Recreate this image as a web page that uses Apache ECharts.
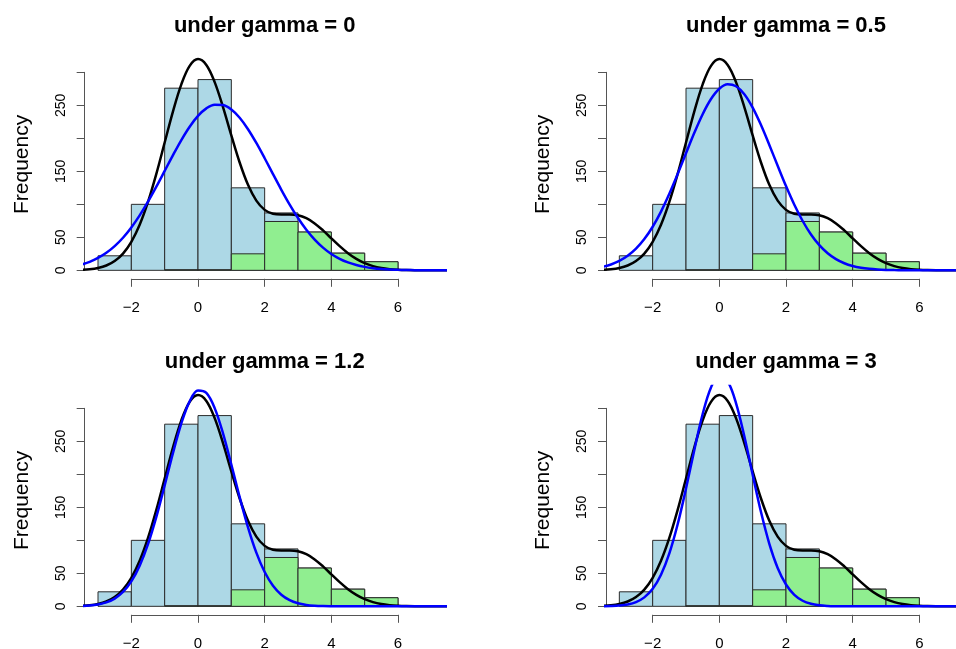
<!DOCTYPE html>
<html>
<head>
<meta charset="utf-8"/>
<title>under gamma</title>
<script src="https://cdn.jsdelivr.net/npm/echarts@6/dist/echarts.min.js"></script>
<style>
html, body { margin: 0; padding: 0; background: #fff; }
#main { width: 956px; height: 649px; }
</style>
</head>
<body>
<div id="main"></div>
<script>
// histogram bins (width 1)
var binEdges = [-3, -2, -1, 0, 1, 2, 3, 4, 5, 6];
var allCounts = [22, 100, 276, 289, 125, 87, 58, 26, 13];
var greenEdges = [-1, 0, 1, 2, 3, 4, 5, 6];
var greenCounts = [1, 1, 25, 74, 58, 26, 13];

// curves, every 0.25
var curveX = [-3.5, -3.25, -3, -2.75, -2.5, -2.25, -2, -1.75, -1.5, -1.25, -1, -0.75, -0.5, -0.25,
  0, 0.25, 0.5, 0.75, 1, 1.25, 1.5, 1.75, 2, 2.25, 2.5, 2.75, 3, 3.25, 3.5, 3.75, 4, 4.25,
  4.5, 4.75, 5, 5.25, 5.5, 5.75, 6, 6.25, 6.5, 6.75, 7, 7.25, 7.5];
var mixtureCurve = [0.70, 1.62, 3.55, 7.27, 14.02, 25.39, 43.19, 69.02, 103.61, 146.13, 193.61, 240.98,
  281.82, 309.74, 320.04, 311.15, 285.16, 247.26, 204.38, 163.38, 129.51, 105.55, 91.59, 85.62, 84.44,
  84.61, 83.34, 78.96, 71.12, 60.51, 48.51, 36.57, 25.91, 17.26, 10.80, 6.35, 3.51, 1.82, 0.89, 0.41,
  0.17, 0.07, 0.03, 0.01, 0.00];
var blueGamma0 = [8.68, 12.92, 18.76, 26.57, 36.69, 49.42, 64.94, 83.22, 103.99, 126.71, 150.62, 174.59,
  197.38, 217.62, 234.00, 245.41, 251.00, 250.37, 243.57, 231.10, 213.84, 192.97, 169.84, 145.78, 122.05,
  99.65, 79.35, 61.61, 46.66, 34.47, 24.83, 17.45, 11.96, 7.99, 5.21, 3.31, 2.05, 1.24, 0.73, 0.42,
  0.24, 0.13, 0.07, 0.04, 0.02];
var blueGamma05 = [5.37, 8.88, 14.21, 21.97, 32.82, 47.36, 66.06, 89.03, 115.93, 145.88, 177.37, 208.39,
  236.59, 259.54, 275.12, 281.81, 278.92, 266.76, 246.53, 220.15, 189.97, 158.39, 127.62, 99.35, 74.75,
  54.33, 38.17, 25.90, 16.99, 10.76, 6.59, 3.90, 2.23, 1.23, 0.66, 0.34, 0.17, 0.08, 0.04, 0.02,
  0.01, 0, 0, 0, 0];
var blueGamma12 = [0.54, 1.28, 2.86, 5.98, 11.76, 21.73, 37.71, 61.46, 94.15, 135.45, 183.06, 232.42,
  277.22, 310.62, 326.95, 323.29, 300.31, 262.06, 214.83, 165.44, 119.69, 81.33, 51.93, 31.14, 17.55,
  9.29, 4.62, 2.16, 0.95, 0.39, 0.15, 0.05, 0.02, 0, 0, 0, 0, 0, 0, 0,
  0, 0, 0, 0, 0];
var blueGamma3 = [0.15, 0.43, 1.14, 2.82, 6.42, 13.56, 26.49, 47.89, 80.19, 124.31, 178.37, 236.95,
  291.37, 331.70, 349.56, 341.04, 308.01, 257.53, 199.33, 142.83, 94.74, 58.17, 33.08, 17.40, 8.48,
  3.83, 1.60, 0.62, 0.22, 0.07, 0.02, 0, 0, 0, 0, 0, 0, 0, 0, 0,
  0, 0, 0, 0, 0];

var panelTitles = ['under gamma = 0', 'under gamma = 0.5', 'under gamma = 1.2', 'under gamma = 3'];
var yTickValues = [0, 50, 100, 150, 200, 250, 300];
var yTickLabels = ['0', '50', '', '150', '', '250', ''];
var xTickValues = [-2, 0, 2, 4, 6];
var xTickLabels = ['\u22122', '0', '2', '4', '6'];

var FONT = '"Liberation Sans", Arial, sans-serif';
var AXIS_COLOR = '#555';

var panels = [
  { left: 84.67, top: 50, blue: blueGamma0 },
  { left: 606.0, top: 50, blue: blueGamma05 },
  { left: 84.67, top: 386, blue: blueGamma12 },
  { left: 606.0, top: 386, blue: blueGamma3 }
];

function barRenderer(fill) {
  return function (params, api) {
    var p0 = api.coord([api.value(0), 0]);
    var p1 = api.coord([api.value(1), api.value(2)]);
    return {
      type: 'rect',
      shape: { x: p0[0], y: p1[1], width: p1[0] - p0[0], height: p0[1] - p1[1] },
      style: { fill: fill, stroke: '#2b2b2b', lineWidth: 1 }
    };
  };
}

function toBins(edges, counts) {
  return counts.map(function (c, k) { return [edges[k], edges[k + 1], c]; });
}
function toLine(vals) {
  return curveX.map(function (x, k) { return [x, vals[k]]; });
}

var grids = [], xAxes = [], yAxes = [], series = [], graphics = [];

panels.forEach(function (p, i) {
  var b = 3 * i;
  // plot region
  grids.push({ left: p.left, top: p.top, width: 360, height: 228.8, outerBoundsMode: 'none' });
  // y axis 0..300
  grids.push({ left: p.left, top: p.top + 22.33, width: 360, height: 198, outerBoundsMode: 'none' });
  // x axis -2..6
  grids.push({ left: p.left + 46.67, top: p.top, width: 266.67, height: 228.8, outerBoundsMode: 'none' });

  xAxes.push({ gridIndex: b, type: 'value', min: -3.4, max: 7.4, show: false });
  yAxes.push({ gridIndex: b, type: 'value', min: -12.84, max: 333.84, show: false });

  xAxes.push({ gridIndex: b + 1, type: 'value', min: 0, max: 1, show: false });
  yAxes.push({
    gridIndex: b + 1, type: 'value', min: 0, max: 300, interval: 50, position: 'left',
    axisLine: { show: true, onZero: false, lineStyle: { color: AXIS_COLOR, width: 1 } },
    axisTick: { show: true, inside: false, length: 8, lineStyle: { color: AXIS_COLOR, width: 1 } },
    axisLabel: {
      rotate: 90, margin: 17, color: '#000', fontSize: 14, fontFamily: FONT,
      formatter: function (v) { var k = yTickValues.indexOf(v); return k < 0 ? '' : yTickLabels[k]; }
    },
    splitLine: { show: false }
  });

  xAxes.push({
    gridIndex: b + 2, type: 'value', min: -2, max: 6, interval: 2, position: 'bottom',
    axisLine: { show: true, onZero: false, lineStyle: { color: AXIS_COLOR, width: 1 } },
    axisTick: { show: true, inside: false, length: 8, lineStyle: { color: AXIS_COLOR, width: 1 } },
    axisLabel: {
      margin: 22, color: '#000', fontSize: 15, fontFamily: FONT,
      formatter: function (v) { var k = xTickValues.indexOf(v); return k < 0 ? '' : xTickLabels[k]; }
    },
    splitLine: { show: false }
  });
  yAxes.push({ gridIndex: b + 2, type: 'value', min: 0, max: 1, show: false });

  series.push({
    type: 'custom', xAxisIndex: b, yAxisIndex: b, renderItem: barRenderer('#ADD8E6'),
    encode: { x: [0, 1], y: 2 }, data: toBins(binEdges, allCounts), silent: true, z: 1
  });
  series.push({
    type: 'custom', xAxisIndex: b, yAxisIndex: b, renderItem: barRenderer('#90EE90'),
    encode: { x: [0, 1], y: 2 }, data: toBins(greenEdges, greenCounts), silent: true, z: 2
  });
  series.push({
    type: 'line', xAxisIndex: b, yAxisIndex: b, data: toLine(mixtureCurve),
    showSymbol: false, smooth: 0.35, clip: true, silent: true, z: 3,
    lineStyle: { color: '#000', width: 2.5 }
  });
  series.push({
    type: 'line', xAxisIndex: b, yAxisIndex: b, data: toLine(p.blue),
    showSymbol: false, smooth: 0.35, clip: true, silent: true, z: 4,
    lineStyle: { color: '#0000FF', width: 2.5 }
  });

  graphics.push({
    type: 'text', x: p.left + 180, y: p.top - 24,
    style: { text: panelTitles[i], fill: '#000', font: 'bold 22px ' + FONT, align: 'center', verticalAlign: 'middle' }
  });
  graphics.push({
    type: 'text', x: p.left - 62.67, y: p.top + 114.4, rotation: Math.PI / 2,
    style: { text: 'Frequency', fill: '#000', font: '21px ' + FONT, align: 'center', verticalAlign: 'middle' }
  });
});

var myChart = echarts.init(document.getElementById('main'));
var option = {
  backgroundColor: '#ffffff',
  animation: false,
  grid: grids,
  xAxis: xAxes,
  yAxis: yAxes,
  series: series,
  graphic: graphics
};
myChart.setOption(option, true);
</script>
</body>
</html>
